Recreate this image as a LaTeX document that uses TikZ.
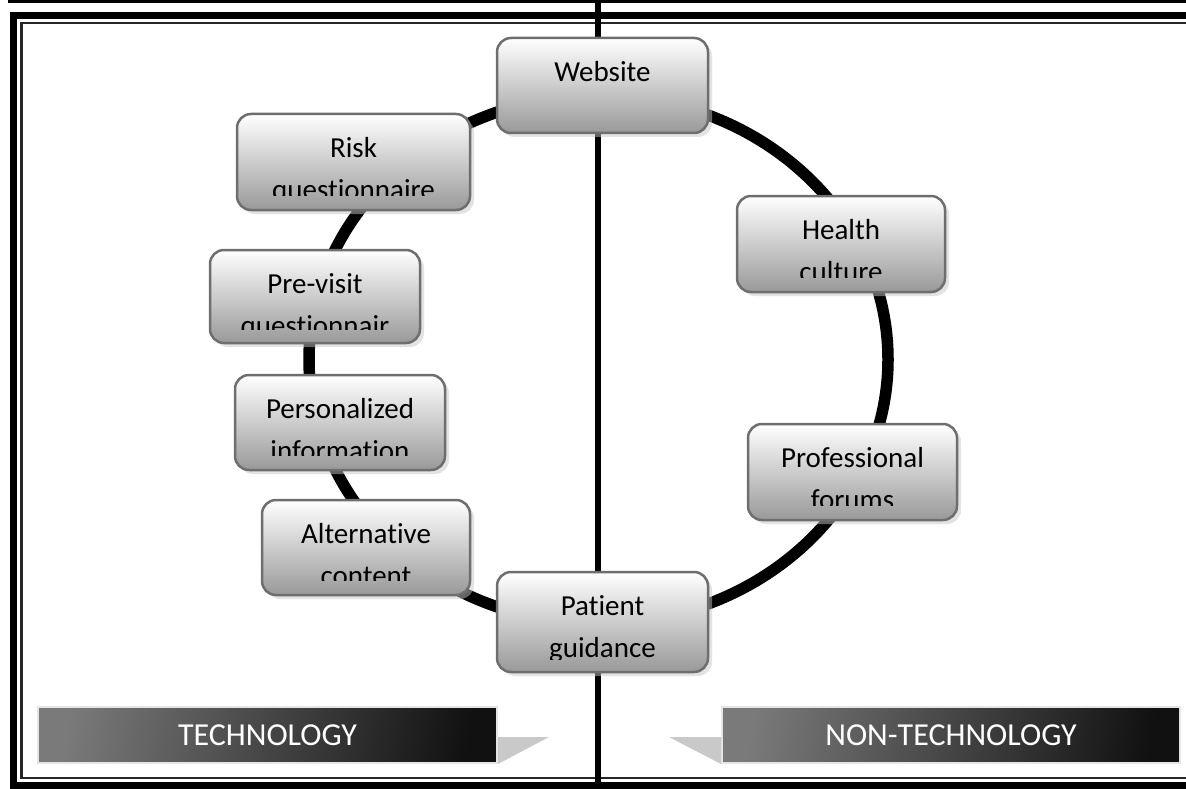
\documentclass[tikz,border=0pt]{standalone}
\usepackage{fontspec}
\setmainfont{Carlito}[Ligatures={NoCommon,NoContextual}]
\usetikzlibrary{shadows}

\definecolor{cardedge}{HTML}{6E6E6E}
\definecolor{cardlow}{HTML}{999999}
\definecolor{tablight}{HTML}{7A7A7A}
\definecolor{tabdark}{HTML}{111111}
\definecolor{tabtip}{HTML}{C9C9C9}
\newcommand{\cardfont}{\fontsize{29}{42}\selectfont}
\newcommand{\tabfont}{\fontsize{32}{36}\selectfont}
% two lines of a card, cut off near its lower edge
\newcommand{\cardlines}[4][16pt]{
	\begin{scope}
		\clip ([yshift=#1]#2.south west) rectangle (#2.north east);
		\node[font=\cardfont,anchor=base] (#2-a) at ([yshift=-45pt]#2.north) {#3};
		\node[font=\cardfont,anchor=base] (#2-b) at ([yshift=-87pt]#2.north) {#4};
	\end{scope}}

\begin{document}
\begin{tikzpicture}
		[x=1pt,y=-1pt,
		card/.style={draw=cardedge,line width=2.5pt,rounded corners=14pt,top color=white,bottom color=cardlow,inner sep=0pt,
			drop shadow={shadow xshift=4pt,shadow yshift=-4pt,fill=black!22}},
		tab/.style={minimum width=459pt,minimum height=56pt,inner sep=0pt,text=white,font=\tabfont,
			left color=tablight,right color=tabdark,shading angle=80,draw=black!10,line width=2pt}]
		\useasboundingbox (0,0) rectangle (1186,789);
		
		% frame
		\draw[line width=3pt] (8,2) -- (1186,2);
		\draw[line width=7pt] (1192,15.5) -- (13.5,15.5) -- (13.5,785) -- (1192,785);
		\draw[line width=2.5pt,black!85] (1192,23) -- (21.5,23) -- (21.5,778) -- (1192,778);
		\draw[line width=6pt] (598,0) -- (598,789);
		
		% ring
		\draw[line width=11.5pt] (598.5,359.5) ellipse [x radius=289.5,y radius=264];
		
		\node[card,minimum width=211pt,minimum height=95pt] (web) at (602.5,85.5) {};
		\node[card,minimum width=233pt,minimum height=96pt] (risk) at (353.5,162) {};
		\node[card,minimum width=208pt,minimum height=96pt] (health) at (841,244) {};
		\node[card,minimum width=210pt,minimum height=93pt] (previsit) at (315,296.5) {};
		\node[card,minimum width=210pt,minimum height=95pt] (personal) at (340,422.5) {};
		\node[card,minimum width=209pt,minimum height=96pt] (forums) at (852.5,472) {};
		\node[card,minimum width=208pt,minimum height=95pt] (altern) at (366,547.5) {};
		\node[card,minimum width=211pt,minimum height=100pt] (patient) at (602.5,622) {};
		
		\cardlines{web}{Website}{}
		\cardlines{risk}{Risk}{questionnaire}
		\cardlines{health}{Health}{culture}
		\cardlines[15pt]{previsit}{Pre-visit}{questionnair}
		\cardlines{personal}{Personalized}{information}
		\cardlines{forums}{Professional}{forums}
		\cardlines{altern}{Alternative}{content}
		\cardlines[14pt]{patient}{Patient}{guidance}
		
		% banners
		\node[tab] (tech) at (267.5,735) {TECHNOLOGY};
		\node[tab,minimum width=458pt] (nontech) at (951,735) {NON-TECHNOLOGY};
		\fill[tabtip] ([yshift=-2pt]tech.east) -- ++(51,0) -- (tech.south east) -- cycle;
		\fill[tabtip] ([yshift=-2pt]nontech.west) -- ++(-52,0) -- (nontech.south west) -- cycle;
		\end{tikzpicture}
\end{document}
